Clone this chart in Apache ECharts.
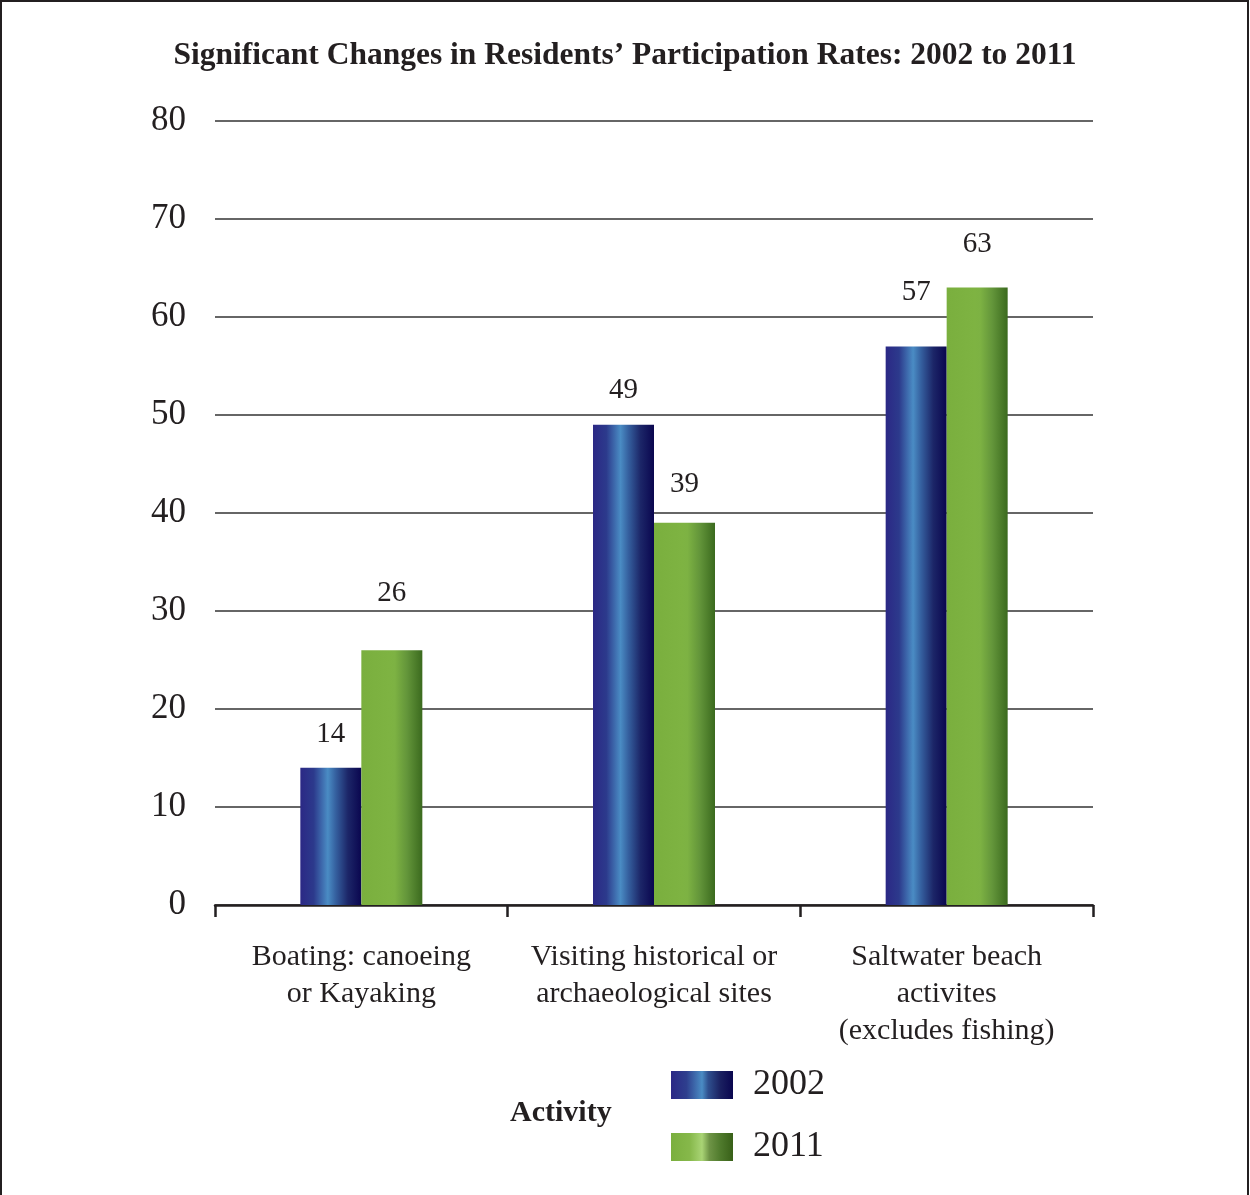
<!DOCTYPE html>
<html>
<head>
<meta charset="utf-8">
<title>Significant Changes in Residents' Participation Rates</title>
<script src="https://cdn.jsdelivr.net/npm/echarts@6/dist/echarts.min.js"></script>
<style>
  html, body { margin: 0; padding: 0; background: #ffffff; }
  #chart { width: 1250px; height: 1195px; }
</style>
</head>
<body>
<div id="chart"></div>
<script>
// Chart data
const chartTitle = 'Significant Changes in Residents\u2019 Participation Rates: 2002 to 2011';
const categories = [
  'Boating: canoeing\nor Kayaking',
  'Visiting historical or\narchaeological sites',
  'Saltwater beach\nactivites\n(excludes fishing)'
];
const seriesNames = ['2002', '2011'];
const values2002 = [14, 49, 57];
const values2011 = [26, 39, 63];
const yTicks = { min: 0, max: 80, interval: 10 };
const legendTitle = 'Activity';

// Label spacing above each bar (px)
const labelGap2002 = [19, 20, 40];
const labelGap2011 = [42, 24, 29];

const SERIF = "'Liberation Serif', 'Times New Roman', serif";
const INK = '#231f20';

function hGrad(stops) {
  return new echarts.graphic.LinearGradient(0, 0, 1, 0,
    stops.map(s => ({ offset: s[0], color: s[1] })));
}

const blueBar = () => hGrad([
  [0, '#2b2885'], [0.22, '#2c3a8c'], [0.45, '#4a8cc4'], [0.58, '#35609f'],
  [0.78, '#1c2668'], [1, '#0a064f']
]);
const greenBar = () => hGrad([
  [0, '#7aaf3e'], [0.45, '#7eb342'], [0.55, '#7db243'], [0.75, '#63953a'], [1, '#3b6a1e']
]);
const blueSwatch = () => hGrad([
  [0, '#2b2885'], [0.25, '#2e3f8e'], [0.5, '#4a8cc4'], [0.6, '#2f508f'],
  [0.8, '#1a2060'], [1, '#0a064f']
]);
const greenSwatch = () => hGrad([
  [0, '#7aaf3e'], [0.3, '#86b84a'], [0.5, '#a9d475'], [0.62, '#6e9446'],
  [0.8, '#4f7a2c'], [1, '#386018']
]);

function seriesData(values, gaps) {
  return values.map((v, i) => ({ value: v, label: { distance: gaps[i] } }));
}

const chart = echarts.init(document.getElementById('chart'), null, { renderer: 'canvas' });

chart.setOption({
  backgroundColor: '#ffffff',
  animation: false,
  textStyle: { fontFamily: SERIF, color: INK },
  title: {
    text: chartTitle,
    left: 'center',
    top: 35,
    textStyle: { fontFamily: SERIF, fontSize: 31.5, fontWeight: 'bold', color: INK }
  },
  grid: { left: 215, right: 157, top: 121, bottom: 290, containLabel: false },
  xAxis: {
    type: 'category',
    data: categories,
    boundaryGap: true,
    axisLine: { show: true, lineStyle: { color: INK, width: 2.5 } },
    axisTick: { show: true, length: 12, lineStyle: { color: INK, width: 2.5 } },
    axisLabel: {
      interval: 0,
      margin: 34,
      fontFamily: SERIF,
      fontSize: 30,
      lineHeight: 37,
      color: INK,
      align: 'center'
    },
    splitLine: { show: false }
  },
  yAxis: {
    type: 'value',
    min: yTicks.min,
    max: yTicks.max,
    interval: yTicks.interval,
    axisLine: { show: false },
    axisTick: { show: false },
    axisLabel: { margin: 29, fontFamily: SERIF, fontSize: 35, color: INK },
    splitLine: { show: true, lineStyle: { color: '#333333', width: 1.5 } }
  },
  legend: {
    orient: 'vertical',
    left: 671,
    top: 1067,
    padding: 0,
    itemWidth: 62,
    itemHeight: 28,
    itemGap: 26,
    icon: 'rect',
    textStyle: { fontFamily: SERIF, fontSize: 36, color: INK, lineHeight: 28, padding: [0, 0, 0, 15] },
    data: [
      { name: seriesNames[0], itemStyle: { color: blueSwatch() } },
      { name: seriesNames[1], itemStyle: { color: greenSwatch() } }
    ]
  },
  graphic: [
    {
      type: 'rect',
      silent: true,
      shape: { x: 1, y: 1, width: 1247, height: 1250 },
      style: { fill: 'none', stroke: INK, lineWidth: 2 }
    },
    {
      type: 'text',
      left: 510,
      top: 1098,
      style: {
        text: legendTitle,
        fontFamily: SERIF,
        fontSize: 30,
        fontWeight: 'bold',
        fill: INK
      }
    }
  ],
  series: [
    {
      name: seriesNames[0],
      type: 'bar',
      barWidth: 61,
      barGap: '0%',
      itemStyle: { color: blueBar() },
      label: { show: true, position: 'top', fontFamily: SERIF, fontSize: 29, color: INK },
      data: seriesData(values2002, labelGap2002)
    },
    {
      name: seriesNames[1],
      type: 'bar',
      barWidth: 61,
      barGap: '0%',
      itemStyle: { color: greenBar() },
      label: { show: true, position: 'top', fontFamily: SERIF, fontSize: 29, color: INK },
      data: seriesData(values2011, labelGap2011)
    }
  ]
});
</script>
</body>
</html>
